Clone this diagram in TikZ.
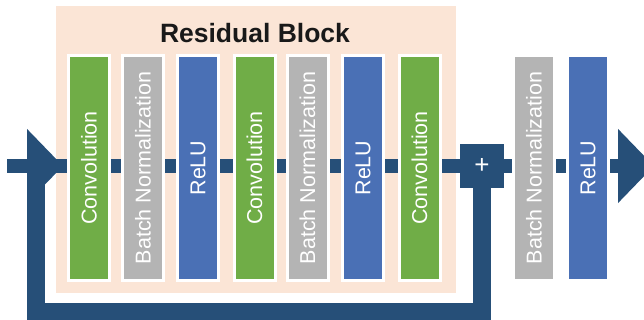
\documentclass[tikz,border=0pt]{standalone}
\usepackage{fontspec}
\setmainfont{Liberation Sans}
\usetikzlibrary{arrows.meta}
\definecolor{cdark}{HTML}{264F78}
\definecolor{cpink}{HTML}{FBE5D6}
\definecolor{cgreen}{HTML}{70AD47}
\definecolor{cgray}{HTML}{B4B4B4}
\definecolor{cblue}{HTML}{4A70B5}
\pgfdeclarelayer{back}
\pgfdeclarelayer{pinklayer}
\pgfdeclarelayer{lines}
\pgfsetlayers{back,pinklayer,lines,main}
\begin{document}
\begin{tikzpicture}[x=1pt,y=-1pt,
  layerbox/.style={rectangle, draw=white, line width=3pt, minimum width=41pt,
    minimum height=225pt, inner sep=0pt, text=white,
    font=\fontsize{21.5}{24}\selectfont},
  conv/.style={layerbox, fill=cgreen},
  bnorm/.style={layerbox, fill=cgray},
  relu/.style={layerbox, fill=cblue},
  mainline/.style={draw=cdark, line width=14pt},
  skipline/.style={draw=cdark, line width=17.5pt},
  bigtip/.style={-{Triangle[length=36pt,width=72pt]}},
]
\useasboundingbox (0,0) rectangle (644,320);

\coordinate (in) at (7,166);
\coordinate (tipL) at (63,166);
\coordinate (out) at (654,166);
\coordinate (skipcorner) at (36,311.5);
\coordinate (skipend) at (36,166);

\begin{pgfonlayer}{pinklayer}
  \node[fill=cpink, minimum width=400pt, minimum height=287pt, inner sep=0pt] (block) at (256,149.5) {};
\end{pgfonlayer}

\node[font=\bfseries\fontsize{26.5}{30}\selectfont, anchor=base, text=black!90] (title) at (255,43) {Residual Block};

\node[conv]  (c1) at (89,168)    {\rotatebox{90}{Convolution}};
\node[bnorm] (b1) at (143,168)   {\rotatebox{90}{Batch Normalization}};
\node[relu]  (r1) at (198,168)   {\rotatebox{90}{ReLU}};
\node[conv]  (c2) at (254.5,168) {\rotatebox{90}{Convolution}};
\node[bnorm] (b2) at (307.5,168) {\rotatebox{90}{Batch Normalization}};
\node[relu]  (r2) at (363,168)   {\rotatebox{90}{ReLU}};
\node[conv]  (c3) at (419.5,168) {\rotatebox{90}{Convolution}};
\node[rectangle, fill=cdark, minimum size=44pt, inner sep=0pt, text=white,
  font=\fontsize{26}{28}\selectfont] (plus) at (482,166) {+};
\node[bnorm] (b3) at (534,168)   {\rotatebox{90}{Batch Normalization}};
\node[relu]  (r3) at (588,168)   {\rotatebox{90}{ReLU}};

\begin{pgfonlayer}{back}
  \draw[mainline, bigtip] (in) -- (tipL);
  \draw[skipline] (plus.center) |- (skipcorner) -- (skipend);
\end{pgfonlayer}

\begin{pgfonlayer}{lines}
  \draw[mainline] (in) -- ([yshift=2pt]c1.west);
  \draw[mainline] ([yshift=2pt]c1.east) -- ([yshift=2pt]b1.west);
  \draw[mainline] ([yshift=2pt]b1.east) -- ([yshift=2pt]r1.west);
  \draw[mainline] ([yshift=2pt]r1.east) -- ([yshift=2pt]c2.west);
  \draw[mainline] ([yshift=2pt]c2.east) -- ([yshift=2pt]b2.west);
  \draw[mainline] ([yshift=2pt]b2.east) -- ([yshift=2pt]r2.west);
  \draw[mainline] ([yshift=2pt]r2.east) -- ([yshift=2pt]c3.west);
  \draw[mainline] ([yshift=2pt]c3.east) -- (plus.west);
  \draw[mainline] (plus.east) -- ([yshift=2pt]b3.west);
  \draw[mainline] ([yshift=2pt]b3.east) -- ([yshift=2pt]r3.west);
  \draw[mainline, bigtip] ([yshift=2pt]r3.east) -- (out);
\end{pgfonlayer}
\end{tikzpicture}
\end{document}
